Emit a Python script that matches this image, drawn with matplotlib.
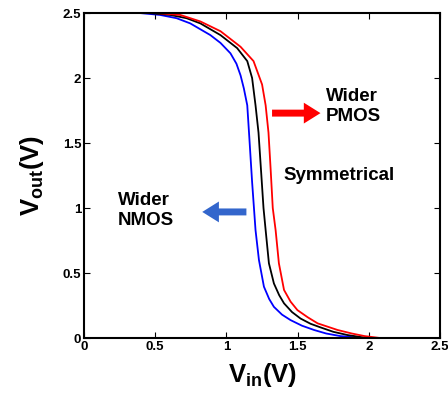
import numpy as np
import matplotlib.pyplot as plt

plt.rcParams['font.family'] = ['Liberation Sans', 'DejaVu Sans']
plt.rcParams['mathtext.fontset'] = 'custom'
plt.rcParams['mathtext.rm'] = 'Liberation Sans:bold'
plt.rcParams['mathtext.it'] = 'Liberation Sans:bold'
plt.rcParams['mathtext.bf'] = 'Liberation Sans:bold'
plt.rcParams['mathtext.default'] = 'bf'

# wider NMOS (blue)
vin_n = [0.0, 0.39, 0.535, 0.65, 0.746, 0.887, 0.958, 1.028, 1.07, 1.099, 1.122, 1.146, 1.16, 1.18, 1.204,
         1.228, 1.263, 1.30, 1.333, 1.39, 1.45, 1.53, 1.615, 1.70, 1.80, 1.97, 2.5]
vout_n = [2.5, 2.5, 2.485, 2.46, 2.42, 2.33, 2.27, 2.19, 2.11, 2.02, 1.92, 1.79, 1.55, 1.20, 0.83,
          0.60, 0.395, 0.30, 0.24, 0.18, 0.138, 0.095, 0.062, 0.035, 0.015, 0.0, 0.0]

# symmetrical (black)
vin_s = [0.0, 0.45, 0.606, 0.72, 0.817, 0.958, 1.075, 1.146, 1.18, 1.204, 1.225, 1.245, 1.26, 1.275,
         1.298, 1.333, 1.37, 1.404, 1.46, 1.52, 1.59, 1.66, 1.75, 1.85, 1.99, 2.5]
vout_s = [2.5, 2.5, 2.485, 2.46, 2.42, 2.33, 2.23, 2.13, 2.0, 1.79, 1.58, 1.25, 1.00, 0.83,
          0.575, 0.42, 0.33, 0.267, 0.20, 0.15, 0.11, 0.082, 0.048, 0.023, 0.0, 0.0]

# wider PMOS (red)
vin_p = [0.0, 0.50, 0.676, 0.817, 0.958, 1.099, 1.19, 1.25, 1.275, 1.295, 1.31, 1.325, 1.345,
         1.368, 1.404, 1.45, 1.498, 1.57, 1.64, 1.78, 1.88, 1.97, 2.08, 2.5]
vout_p = [2.5, 2.5, 2.485, 2.435, 2.36, 2.24, 2.13, 1.95, 1.79, 1.58, 1.30, 1.00, 0.83,
          0.575, 0.37, 0.28, 0.215, 0.16, 0.113, 0.062, 0.035, 0.015, 0.0, 0.0]

xticks = [0, 0.5, 1, 1.5, 2, 2.5]
xticklabels = ['0', '0.5', '1', '1.5', '2', '2.5']
yticks = [0, 0.5, 1, 1.5, 2, 2.5]
yticklabels = ['0', '0.5', '1', '1.5', '2', '2.5']

fig = plt.figure(figsize=(4.48, 3.94), dpi=100)
ax = fig.add_axes([0.1875, 0.142, 0.795, 0.825])

ax.plot(vin_n, vout_n, color='blue', lw=1.3)
ax.plot(vin_s, vout_s, color='black', lw=1.3)
ax.plot(vin_p, vout_p, color='red', lw=1.3)

ax.set_xlim(0, 2.5)
ax.set_ylim(0, 2.5)
ax.set_xticks(xticks)
ax.set_xticklabels(xticklabels, fontsize=9.5, fontweight='bold')
ax.set_yticks(yticks)
ax.set_yticklabels(yticklabels, fontsize=9.5, fontweight='bold')
ax.tick_params(direction='in', length=4, width=0.8, top=True, right=True, pad=2)
for s in ax.spines.values():
    s.set_linewidth(1.5)

ax.set_xlabel(r'$\mathbf{V_{in}(V)}$', fontsize=18.5, labelpad=6)
ax.set_ylabel(r'$\mathbf{V_{out}(V)}$', fontsize=18.5, labelpad=12)

# arrows
ax.annotate('', xy=(1.66, 1.73), xytext=(1.32, 1.73),
            arrowprops=dict(facecolor='red', edgecolor='none', width=5, headwidth=15, headlength=12))
ax.annotate('', xy=(0.83, 0.97), xytext=(1.14, 0.97),
            arrowprops=dict(facecolor='#3366cc', edgecolor='none', width=5, headwidth=15, headlength=12))

ax.text(1.70, 1.78, 'Wider\nPMOS', fontsize=13.5, fontweight='bold', va='center', ha='left', linespacing=1.25)
ax.text(1.40, 1.25, 'Symmetrical', fontsize=13.5, fontweight='bold', va='center', ha='left')
ax.text(0.24, 0.98, 'Wider\nNMOS', fontsize=13.5, fontweight='bold', va='center', ha='left', linespacing=1.25)

fig.savefig('out.png', dpi=100)
